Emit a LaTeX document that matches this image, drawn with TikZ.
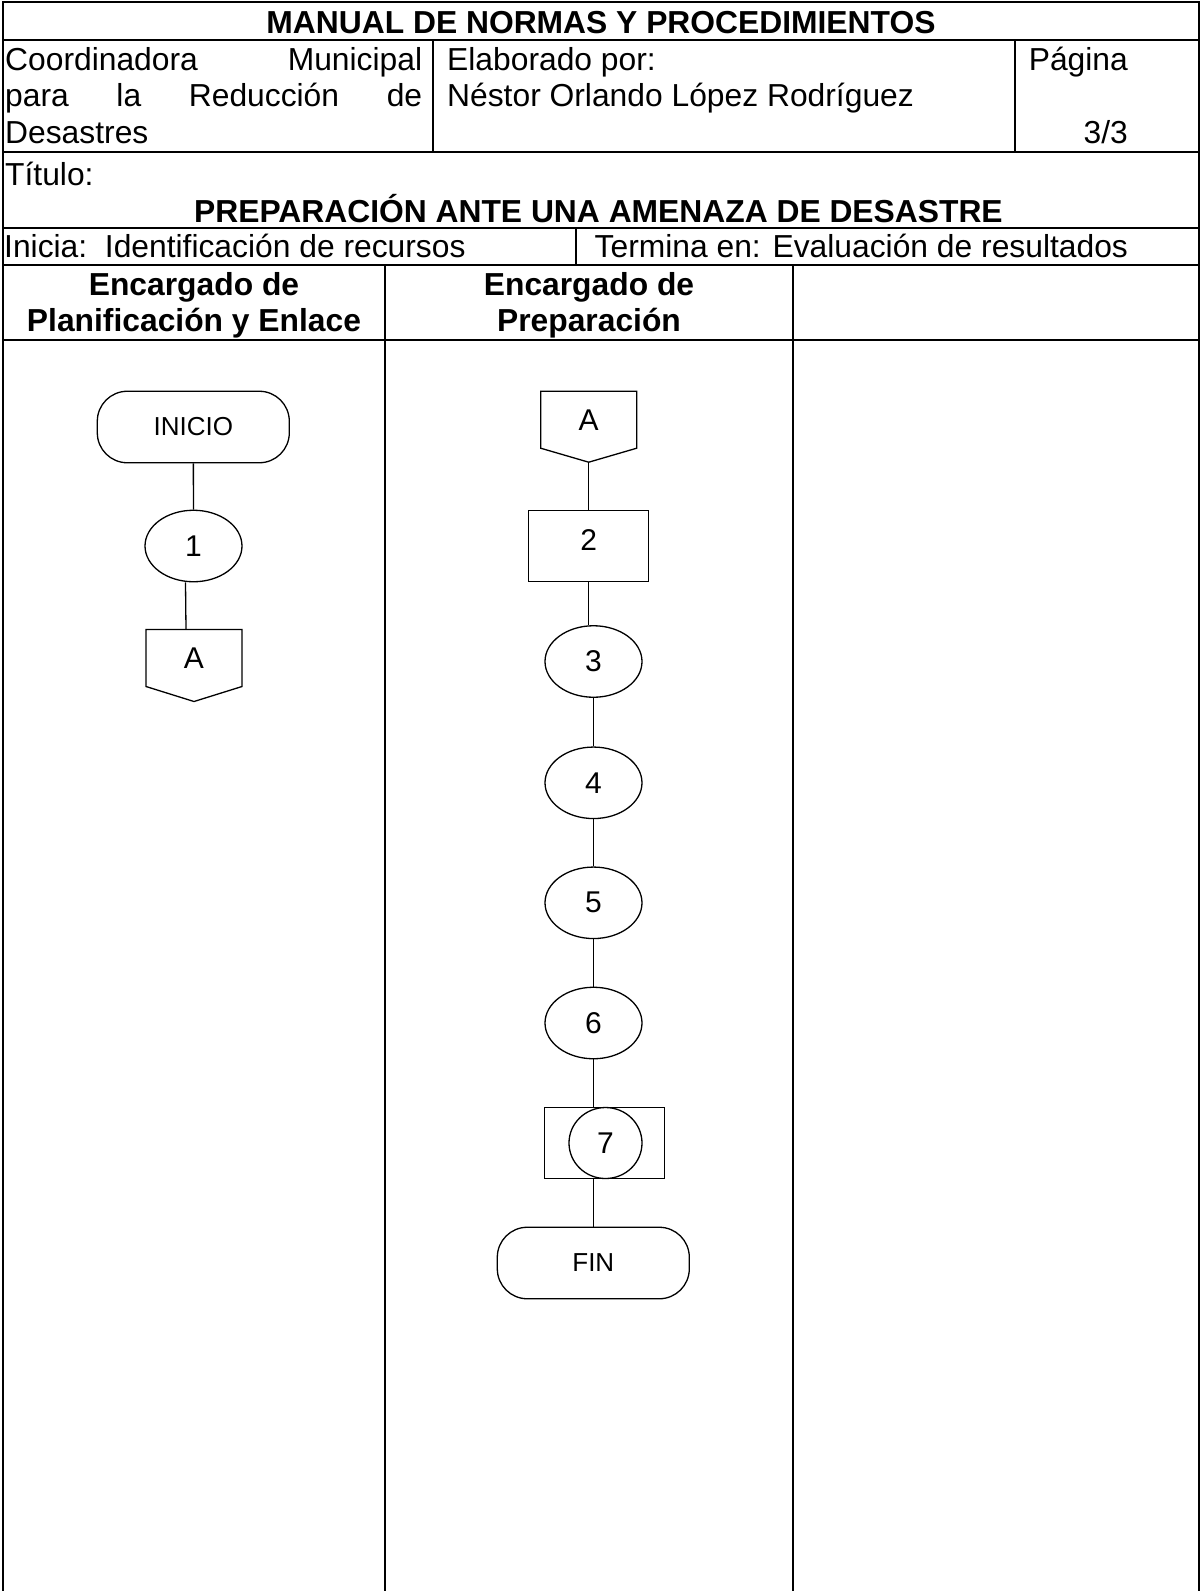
\documentclass[tikz,border=0pt]{standalone}
\usepackage{fontspec}
\setmainfont{Liberation Sans}
\usetikzlibrary{shapes.geometric}
\tikzstyle{txt} = [inner sep=0pt, font=\fontsize{31.8}{37}\selectfont]
\tikzstyle{hdr} = [inner sep=0pt, font=\fontsize{31.8}{37}\selectfont\bfseries]
\tikzstyle{tabline} = [line width=2pt]
\tikzstyle{link} = [line width=1.3pt]
\tikzstyle{flow} = [draw, line width=1.3pt, inner sep=0pt, font=\fontsize{30}{36}\selectfont]
\tikzstyle{term} = [flow, rectangle, rounded corners=30pt, minimum width=192pt, minimum height=71.5pt, font=\fontsize{26}{30}\selectfont]
\tikzstyle{oval} = [flow, ellipse, minimum width=97pt, minimum height=71.5pt]
\tikzstyle{procbox} = [flow, rectangle, minimum width=120pt, minimum height=71.5pt]
\tikzstyle{offpage} = [inner sep=0pt, outer sep=0pt, minimum width=96pt, minimum height=57pt, font=\fontsize{30}{36}\selectfont]

\begin{document}
\begin{tikzpicture}[x=1pt, y=-1pt]
        \useasboundingbox (0,0) rectangle (1201,1591);

        % table frame
        \draw[tabline] (3,1591) -- (3,2) -- (1199,2) -- (1199,1591);
        \foreach \y in {40,152,227.5,264.5,340}
          \draw[tabline] (3,\y) -- (1199,\y);
        \draw[tabline] (432.5,40) -- (432.5,152);
        \draw[tabline] (1015,40) -- (1015,152);
        \draw[tabline] (575.5,227.5) -- (575.5,264.5);
        \draw[tabline] (385,264.5) -- (385,1591);
        \draw[tabline] (793,264.5) -- (793,1591);

        % header texts
        \node[hdr, anchor=base] (manual) at (601,33) {MANUAL DE NORMAS Y PROCEDIMIENTOS};
        \node[txt, anchor=base west, text width=417pt] (coordA) at (5,70) {Coordinadora\hfill Municipal};
        \node[txt, anchor=base west, text width=417pt] (coordB) at (5,106.5) {para\hfill la\hfill Reducción\hfill de};
        \node[txt, anchor=base west] (coordC) at (5,143) {Desastres};
        \node[txt, anchor=base west] (elab) at (447,70) {Elaborado por:};
        \node[txt, anchor=base west] (autor) at (447,106.5) {Néstor Orlando López Rodríguez};
        \node[txt, anchor=base east] (pagina) at (1128,70) {Página};
        \node[txt, anchor=base east] (pagnum) at (1128,143) {3/3};
        \node[txt, anchor=base west] (titulo) at (5,185) {Título:};
        \node[hdr, anchor=base] (nombre) at (598.5,222) {PREPARACIÓN ANTE UNA AMENAZA DE DESASTRE};
        \node[txt, anchor=base west] (inicia) at (4,257) {Inicia:\ \ Identificación de recursos};
        \node[txt, anchor=base west] (termina) at (594.5,257) {Termina en: Evaluación de resultados};

        % lane titles
        \node[hdr, anchor=base] (laneA1) at (194,295) {Encargado de};
        \node[hdr, anchor=base] (laneA2) at (194,331) {Planificación y Enlace};
        \node[hdr, anchor=base] (laneB1) at (589,295) {Encargado de};
        \node[hdr, anchor=base] (laneB2) at (589,331) {Preparación};

        % left lane
        \node[term] (inicio) at (193.3,427) {INICIO};
        \node[oval] (n1) at (193.5,546) {1};
        \node[offpage] (offA) at (194,658) {A};
        \draw[link] (offA.north west) -- (offA.north east) -- (offA.south east)
          -- ([yshift=-15pt]offA.south) -- (offA.south west) -- cycle;

        % middle lane
        \node[offpage] (offB) at (588.7,419.7) {A};
        \draw[link] (offB.north west) -- (offB.north east) -- (offB.south east)
          -- ([yshift=-14pt]offB.south) -- (offB.south west) -- cycle;
        \coordinate (offBtip) at ([yshift=-14pt]offB.south);
        \node[procbox] (n2) at (588.7,546) {\raisebox{12pt}{2}};
        \node[oval] (n3) at (593.5,661.5) {3};
        \node[oval] (n4) at (593.5,782.8) {4};
        \node[oval] (n5) at (593.5,902.8) {5};
        \node[oval] (n6) at (593.5,1023) {6};
        \node[procbox] (box7) at (604.8,1143) {};
        \node[oval, minimum width=73pt, minimum height=71pt] (n7) at (605.5,1143) {7};
        \node[term] (fin) at (593.3,1263) {FIN};

        % Edges - black
        \draw[link] (inicio) -- (n1);
        \draw[link] ([xshift=-8pt]n1.south) -- ([xshift=-8pt]offA.north);
        \draw[link] (offBtip) -- (n2.north);
        \draw[link] (n2.south) -- (n2.south |- n3.north);
        \draw[link] (n3) -- (n4);
        \draw[link] (n4) -- (n5);
        \draw[link] (n5) -- (n6);
        \draw[link] (n6.south) -- (n6.south |- box7.north);
        \draw[link] (fin.north |- box7.south) -- (fin.north);
\end{tikzpicture}
\end{document}
